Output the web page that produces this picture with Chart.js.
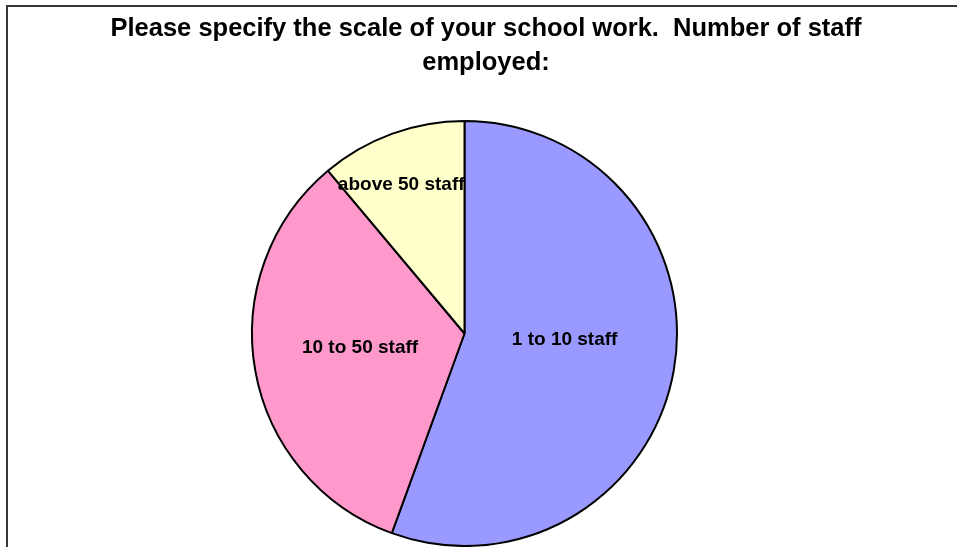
<!DOCTYPE html>
<html>
<head>
<meta charset="utf-8">
<script src="https://cdn.jsdelivr.net/npm/chart.js@4"></script>
<style>
  html, body { margin: 0; padding: 0; background: #fff; overflow: hidden; }
  #wrap { position: absolute; left: 0; top: 0; width: 957px; height: 547px; }
  #frame { position: absolute; left: 6px; top: 5px; width: 1000px; height: 1000px;
           border: 2px solid #383838; pointer-events: none; }
</style>
</head>
<body>
<div id="wrap"><canvas id="grafico"></canvas></div>
<div id="frame"></div>
<script>
// dados do grafico
const tituloLinhas = ['Please specify the scale of your school work.  Number of staff', 'employed:']
const categorias = ['1 to 10 staff', '10 to 50 staff', 'above 50 staff']
const valores = [5, 3, 1]
const cores = ['#9999FF', '#FF99CC', '#FFFFCC']

// ajuste dos rotulos (graus a partir do meio da fatia, fracao do raio)
const rotuloGiro = [-6.6, 2.4, -3.1]
const rotuloRaio = [0.472, 0.496, 0.759]

const fonte = '"Liberation Sans", Arial, sans-serif'

/* titulo desenhado a mao pra centralizar fora da area do grafico */
const tituloPlugin = {
    id: 'tituloManual',
    afterDraw(chart) {
        const ctx = chart.ctx
        ctx.save()
        ctx.fillStyle = '#000'
        ctx.font = 'bold 25.5px ' + fonte
        ctx.textAlign = 'center'
        ctx.textBaseline = 'alphabetic'
        ctx.fillText(tituloLinhas[0], 486, 36)
        ctx.fillText(tituloLinhas[1], 486, 70)
        ctx.restore()
    }
}

/* rotulos dentro das fatias */
const rotulosPlugin = {
    id: 'rotulos',
    afterDatasetsDraw(chart) {
        const ctx = chart.ctx
        const arcos = chart.getDatasetMeta(0).data
        ctx.save()
        ctx.fillStyle = '#000'
        ctx.font = 'bold 19px ' + fonte
        ctx.textAlign = 'center'
        ctx.textBaseline = 'middle'
        arcos.forEach((arco, i) => {
            const p = arco.getProps(['x', 'y', 'startAngle', 'endAngle', 'outerRadius'], true)
            const meio = (p.startAngle + p.endAngle) / 2 + rotuloGiro[i] * Math.PI / 180
            const r = p.outerRadius * rotuloRaio[i]
            ctx.fillText(categorias[i], p.x + Math.cos(meio) * r, p.y + Math.sin(meio) * r)
        })
        ctx.restore()
    }
}

const grafico = new Chart(document.querySelector('#grafico'), {
    type: 'pie',
    data: {
        labels: categorias,
        datasets: [{
            data: valores,
            backgroundColor: cores,
            borderColor: '#000',
            borderWidth: 2
        }]
    },
    options: {
        responsive: true,
        maintainAspectRatio: false,
        animation: false,
        layout: { padding: { top: 120, right: 28, bottom: 0, left: 0 } },
        plugins: {
            legend: { display: false },
            tooltip: { enabled: false },
            title: { display: false }
        }
    },
    plugins: [tituloPlugin, rotulosPlugin]
})
</script>
</body>
</html>
